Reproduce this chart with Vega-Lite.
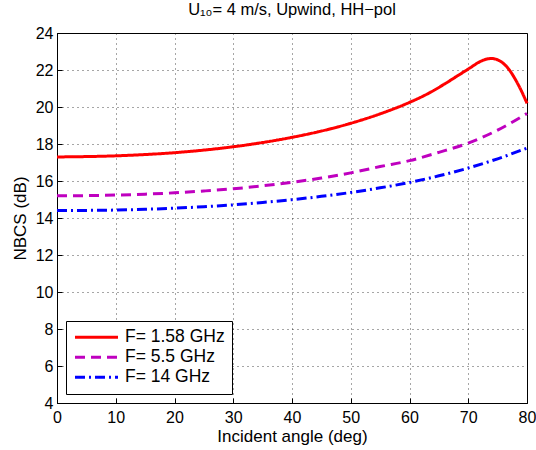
{
  "$schema": "https://vega.github.io/schema/vega-lite/v6.json",
  "autosize": "none",
  "width": 470,
  "height": 370,
  "padding": {"left": 57, "top": 33, "right": 9, "bottom": 47},
  "background": "white",
  "title": {"text": "U₁₀= 4 m/s, Upwind, HH−pol", "font": "Liberation Sans", "fontSize": 16.5, "fontWeight": "normal", "color": "black", "offset": 7},
  "config": {
    "view": {"stroke": "black", "strokeWidth": 1},
    "axis": {"labelFont": "Liberation Sans", "titleFont": "Liberation Sans", "labelFontSize": 16, "titleFontSize": 17, "titleFontWeight": "normal", "labelColor": "black", "titleColor": "black", "domainColor": "black", "tickColor": "black", "gridColor": "black", "gridDash": [1, 4], "gridOpacity": 0.7, "tickSize": -5, "labelFlush": false}
  },
  "data": {"values": [
    {"angle": 0, "nbcs": 17.30, "f": "F= 1.58 GHz"},
    {"angle": 5, "nbcs": 17.32, "f": "F= 1.58 GHz"},
    {"angle": 10, "nbcs": 17.36, "f": "F= 1.58 GHz"},
    {"angle": 15, "nbcs": 17.43, "f": "F= 1.58 GHz"},
    {"angle": 20, "nbcs": 17.53, "f": "F= 1.58 GHz"},
    {"angle": 25, "nbcs": 17.67, "f": "F= 1.58 GHz"},
    {"angle": 30, "nbcs": 17.85, "f": "F= 1.58 GHz"},
    {"angle": 35, "nbcs": 18.08, "f": "F= 1.58 GHz"},
    {"angle": 40, "nbcs": 18.36, "f": "F= 1.58 GHz"},
    {"angle": 45, "nbcs": 18.70, "f": "F= 1.58 GHz"},
    {"angle": 50, "nbcs": 19.12, "f": "F= 1.58 GHz"},
    {"angle": 55, "nbcs": 19.63, "f": "F= 1.58 GHz"},
    {"angle": 60, "nbcs": 20.25, "f": "F= 1.58 GHz"},
    {"angle": 63, "nbcs": 20.70, "f": "F= 1.58 GHz"},
    {"angle": 66, "nbcs": 21.25, "f": "F= 1.58 GHz"},
    {"angle": 68, "nbcs": 21.65, "f": "F= 1.58 GHz"},
    {"angle": 70, "nbcs": 22.05, "f": "F= 1.58 GHz"},
    {"angle": 72, "nbcs": 22.45, "f": "F= 1.58 GHz"},
    {"angle": 73, "nbcs": 22.58, "f": "F= 1.58 GHz"},
    {"angle": 74, "nbcs": 22.62, "f": "F= 1.58 GHz"},
    {"angle": 75, "nbcs": 22.55, "f": "F= 1.58 GHz"},
    {"angle": 76, "nbcs": 22.35, "f": "F= 1.58 GHz"},
    {"angle": 77, "nbcs": 22.00, "f": "F= 1.58 GHz"},
    {"angle": 78, "nbcs": 21.50, "f": "F= 1.58 GHz"},
    {"angle": 79, "nbcs": 20.90, "f": "F= 1.58 GHz"},
    {"angle": 80, "nbcs": 20.20, "f": "F= 1.58 GHz"},
    {"angle": 0, "nbcs": 15.20, "f": "F= 5.5 GHz"},
    {"angle": 5, "nbcs": 15.21, "f": "F= 5.5 GHz"},
    {"angle": 10, "nbcs": 15.24, "f": "F= 5.5 GHz"},
    {"angle": 15, "nbcs": 15.29, "f": "F= 5.5 GHz"},
    {"angle": 20, "nbcs": 15.36, "f": "F= 5.5 GHz"},
    {"angle": 25, "nbcs": 15.46, "f": "F= 5.5 GHz"},
    {"angle": 30, "nbcs": 15.58, "f": "F= 5.5 GHz"},
    {"angle": 35, "nbcs": 15.74, "f": "F= 5.5 GHz"},
    {"angle": 40, "nbcs": 15.93, "f": "F= 5.5 GHz"},
    {"angle": 45, "nbcs": 16.16, "f": "F= 5.5 GHz"},
    {"angle": 50, "nbcs": 16.44, "f": "F= 5.5 GHz"},
    {"angle": 55, "nbcs": 16.78, "f": "F= 5.5 GHz"},
    {"angle": 60, "nbcs": 17.10, "f": "F= 5.5 GHz"},
    {"angle": 65, "nbcs": 17.55, "f": "F= 5.5 GHz"},
    {"angle": 70, "nbcs": 18.05, "f": "F= 5.5 GHz"},
    {"angle": 75, "nbcs": 18.75, "f": "F= 5.5 GHz"},
    {"angle": 80, "nbcs": 19.65, "f": "F= 5.5 GHz"},
    {"angle": 0, "nbcs": 14.40, "f": "F= 14 GHz"},
    {"angle": 5, "nbcs": 14.41, "f": "F= 14 GHz"},
    {"angle": 10, "nbcs": 14.43, "f": "F= 14 GHz"},
    {"angle": 15, "nbcs": 14.47, "f": "F= 14 GHz"},
    {"angle": 20, "nbcs": 14.53, "f": "F= 14 GHz"},
    {"angle": 25, "nbcs": 14.61, "f": "F= 14 GHz"},
    {"angle": 30, "nbcs": 14.71, "f": "F= 14 GHz"},
    {"angle": 35, "nbcs": 14.84, "f": "F= 14 GHz"},
    {"angle": 40, "nbcs": 14.99, "f": "F= 14 GHz"},
    {"angle": 45, "nbcs": 15.17, "f": "F= 14 GHz"},
    {"angle": 50, "nbcs": 15.38, "f": "F= 14 GHz"},
    {"angle": 55, "nbcs": 15.63, "f": "F= 14 GHz"},
    {"angle": 60, "nbcs": 15.92, "f": "F= 14 GHz"},
    {"angle": 65, "nbcs": 16.28, "f": "F= 14 GHz"},
    {"angle": 70, "nbcs": 16.70, "f": "F= 14 GHz"},
    {"angle": 75, "nbcs": 17.20, "f": "F= 14 GHz"},
    {"angle": 80, "nbcs": 17.78, "f": "F= 14 GHz"}
  ]},
  "mark": {"type": "line", "strokeWidth": 3, "interpolate": "monotone"},
  "encoding": {
    "x": {"field": "angle", "type": "quantitative", "scale": {"domain": [0, 80], "nice": false}, "axis": {"values": [0, 10, 20, 30, 40, 50, 60, 70, 80], "title": "Incident angle (deg)", "labelPadding": 11, "titlePadding": 3}},
    "y": {"field": "nbcs", "type": "quantitative", "scale": {"domain": [4, 24], "nice": false, "zero": false}, "axis": {"values": [4, 6, 8, 10, 12, 14, 16, 18, 20, 22, 24], "title": "NBCS (dB)", "labelPadding": 9, "titlePadding": 6}},
    "color": {"field": "f", "type": "nominal", "scale": {"domain": ["F= 1.58 GHz", "F= 5.5 GHz", "F= 14 GHz"], "range": ["#ff0000", "#bf00bf", "#0000ff"]}, "legend": {"title": null, "orient": "bottom-left", "offset": 9, "strokeColor": "black", "fillColor": "white", "padding": 7, "labelFont": "Liberation Sans", "labelFontSize": 17.5, "labelColor": "black", "symbolType": "stroke", "symbolSize": 1850, "symbolStrokeWidth": 3, "clipHeight": 18.5, "rowPadding": 1, "labelOffset": 5}},
    "strokeDash": {"field": "f", "type": "nominal", "scale": {"domain": ["F= 1.58 GHz", "F= 5.5 GHz", "F= 14 GHz"], "range": [[1, 0], [10, 6], [10, 4, 2, 4]]}, "legend": null}
  }
}
